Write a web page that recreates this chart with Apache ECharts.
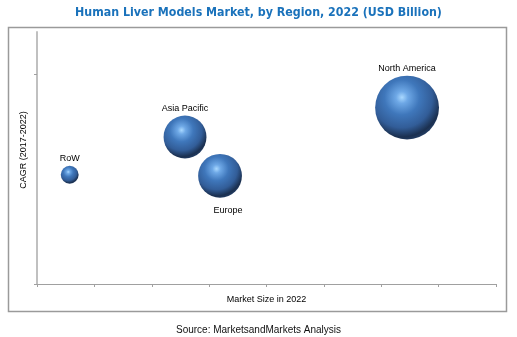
<!DOCTYPE html>
<html><head><meta charset="utf-8">
<script src="https://cdn.jsdelivr.net/npm/echarts@6/dist/echarts.min.js"></script>
<style>html,body{margin:0;padding:0;background:#fff}#c{width:517px;height:337px}</style>
</head><body><div id="c"></div>
<script>
const regions = ['RoW', 'Asia Pacific', 'Europe', 'North America'];
const marketSize = [0.57, 2.58, 3.19, 6.45];
const cagr = [5.2, 7.0, 5.15, 8.4];
const bubble = [0.8, 4.6, 4.8, 10.2];
const labelPos = ['top', 'top', 'bottom', 'top'];

const chart = echarts.init(document.getElementById('c'));
const ball = {
  type: 'radial', x: 0.42, y: 0.34, r: 0.72,
  colorStops: [
    { offset: 0, color: '#a9d8ff' },
    { offset: 0.13, color: '#6ea8e6' },
    { offset: 0.38, color: '#3f77bb' },
    { offset: 0.66, color: '#325d98' },
    { offset: 0.86, color: '#1b3050' },
    { offset: 1, color: '#274571' }
  ]
};
chart.setOption({
  animation: false,
  title: [
    { text: 'Human Liver Models Market, by Region, 2022 (USD Billion)', left: 'center', top: 2,
      textStyle: { fontFamily: 'DejaVu Sans Condensed', fontWeight: 'bold', fontSize: 12.3, color: '#1a72bb' } },
    { text: 'Source: MarketsandMarkets Analysis', left: 'center', top: 320,
      textStyle: { fontFamily: 'Liberation Sans', fontWeight: 'normal', fontSize: 10, color: '#111' } }
  ],
  graphic: [{ type: 'rect', shape: { x: 8.5, y: 27.5, width: 498, height: 284 },
    style: { fill: 'none', stroke: '#9a9a9a', lineWidth: 1.5 }, silent: true }],
  grid: { left: 37, right: 21, top: 32, bottom: 53 },
  xAxis: {
    type: 'value', min: 0, max: 8, interval: 1,
    name: 'Market Size in 2022', nameLocation: 'middle', nameGap: 11,
    nameTextStyle: { fontFamily: 'Liberation Sans', fontSize: 9, color: '#000' },
    axisLine: { lineStyle: { color: '#a0a0a0', width: 1 } },
    axisTick: { show: true, length: 3, lineStyle: { color: '#a0a0a0' } },
    axisLabel: { show: false }, splitLine: { show: false }
  },
  yAxis: {
    type: 'value', min: 0, max: 12, interval: 2,
    name: 'CAGR (2017-2022)', nameLocation: 'middle', nameGap: 9, nameRotate: 90,
    nameTextStyle: { fontFamily: 'Liberation Sans', fontSize: 9, color: '#000', padding: [0, 0, 0, 16] },
    axisLine: { lineStyle: { color: '#c0c0c0', width: 2 } },
    axisTick: { show: true, length: 3, customValues: [0, 10], lineStyle: { color: '#a0a0a0' } },
    axisLabel: { show: false }, splitLine: { show: false }
  },
  series: [{
    type: 'scatter',
    data: regions.map((r, i) => ({
      name: r, value: [marketSize[i], cagr[i], bubble[i]],
      label: { position: labelPos[i], distance: labelPos[i] === 'bottom' ? 8 : 3,
               offset: labelPos[i] === 'bottom' ? [8, 0] : [0, 0] }
    })),
    symbolSize: v => Math.sqrt(v[2]) * 20,
    itemStyle: { color: ball, opacity: 1 },
    label: { show: true, formatter: p => p.name, fontFamily: 'Liberation Sans', fontSize: 9, color: '#000' }
  }]
});
</script></body></html>
